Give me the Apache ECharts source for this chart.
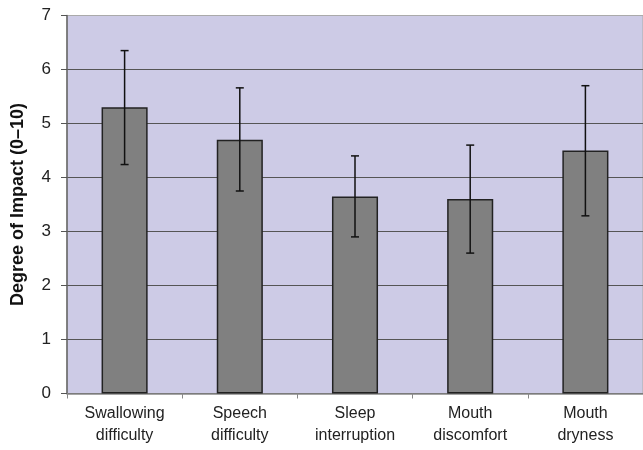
<!DOCTYPE html>
<html>
<head>
<meta charset="utf-8">
<script src="https://cdn.jsdelivr.net/npm/echarts@6/dist/echarts.min.js"></script>
<style>
  html, body { margin: 0; padding: 0; background: #fff; }
  #chart { width: 643px; height: 450px; }
</style>
</head>
<body>
<div id="chart"></div>
<script>
// 数据
var categories = ['Swallowing\ndifficulty', 'Speech\ndifficulty', 'Sleep\ninterruption', 'Mouth\ndiscomfort', 'Mouth\ndryness'];
var meanValues = [5.3, 4.7, 3.65, 3.6, 4.5];
var errLow = [4.24, 3.75, 2.9, 2.6, 3.29];
var errHigh = [6.35, 5.66, 4.4, 4.6, 5.7];

var errData = [];
for (var i = 0; i < categories.length; i++) {
    errData.push([i, errLow[i], errHigh[i]]);
}

var myChart = echarts.init(document.getElementById('chart'));
var option = {
    animation: false,
    textStyle: { fontFamily: 'Liberation Sans, Arial, sans-serif' },
    grid: {
        left: 67,
        right: 0,
        top: 15.5,
        bottom: 56.5,
        show: true,
        backgroundColor: '#cdcbe6',
        borderColor: '#aaa',
        borderWidth: 1
    },
    xAxis: {
        type: 'category',
        data: categories,
        axisLine: { lineStyle: { color: '#888', width: 1.5 } },
        axisTick: { show: true, length: 5, lineStyle: { color: '#888' } },
        axisLabel: {
            color: '#222',
            fontSize: 16,
            lineHeight: 22,
            margin: 9,
            interval: 0
        }
    },
    yAxis: {
        type: 'value',
        min: 0,
        max: 7,
        interval: 1,
        name: 'Degree of Impact (0\u201310)',
        nameLocation: 'middle',
        nameGap: 40,
        nameTextStyle: { color: '#111', fontSize: 18, fontWeight: 'bold' },
        axisLine: { show: true, lineStyle: { color: '#666', width: 1.5 } },
        axisTick: { show: true, length: 6, lineStyle: { color: '#555' } },
        axisLabel: { color: '#222', fontSize: 17, margin: 16 },
        splitLine: {
            show: true,
            lineStyle: { color: ['#555', '#555', '#555', '#555', '#555', '#555', '#555', '#aaa'], width: 1 }
        }
    },
    series: [
        {
            type: 'bar',
            data: meanValues,
            barWidth: '40%',
            itemStyle: { color: '#808080', borderColor: '#222', borderWidth: 1.5 }
        },
        {
            type: 'custom',
            data: errData,
            z: 10,
            renderItem: function (params, api) {
                var x = api.value(0);
                var lo = api.coord([x, api.value(1)]);
                var hi = api.coord([x, api.value(2)]);
                var half = 4;
                var style = { stroke: '#111', lineWidth: 1.5 };
                return {
                    type: 'group',
                    children: [
                        { type: 'line', shape: { x1: hi[0], y1: hi[1], x2: lo[0], y2: lo[1] }, style: style },
                        { type: 'line', shape: { x1: hi[0] - half, y1: hi[1], x2: hi[0] + half, y2: hi[1] }, style: style },
                        { type: 'line', shape: { x1: lo[0] - half, y1: lo[1], x2: lo[0] + half, y2: lo[1] }, style: style }
                    ]
                };
            }
        }
    ]
};
myChart.setOption(option);
</script>
</body>
</html>
